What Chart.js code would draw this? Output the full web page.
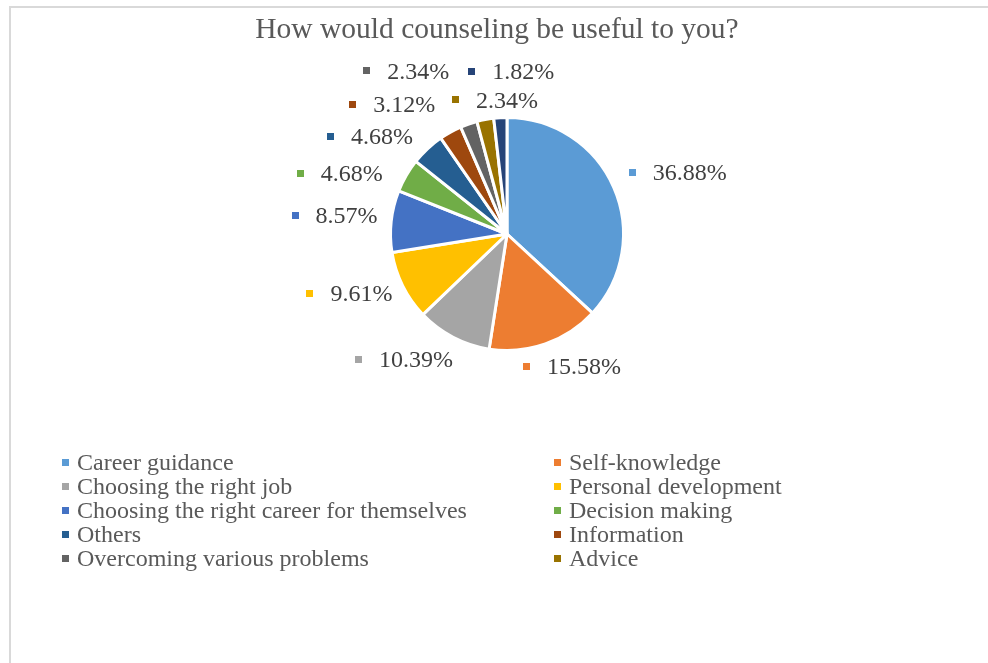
<!DOCTYPE html>
<html>
<head>
<meta charset="utf-8">
<script src="https://cdn.jsdelivr.net/npm/chart.js@4.4.1/dist/chart.umd.min.js"></script>
<style>
  html, body { margin: 0; padding: 0; background: #fff; }
  #wrap { position: relative; width: 988px; height: 663px; overflow: hidden; }
  #frame { position: absolute; left: 9px; top: 6px; width: 979px; height: 657px;
           border-top: 2px solid #d9d9d9; border-left: 2px solid #d9d9d9; box-sizing: border-box; }
  #title { position: absolute; left: 0; width: 994px; top: 10px; text-align: center;
           font-family: "Liberation Serif", "Times New Roman", serif; font-size: 29.5px;
           color: #595959; line-height: 36px; white-space: nowrap; }
  canvas { position: absolute; left: 0; top: 0; }
  #legend { position: absolute; left: 62px; top: 450px; display: grid;
            grid-template-columns: 492px 300px; font-family: "Liberation Serif", "Times New Roman", serif;
            font-size: 24px; line-height: 24px; color: #595959; }
  .item { display: flex; align-items: center; white-space: nowrap; height: 24px; }
  .sw { width: 7px; height: 7px; margin-right: 8px; flex: none; }
</style>
</head>
<body>
<div id="wrap">
  <div id="frame"></div>
  <canvas id="c" width="988" height="663"></canvas>
  <div id="title">How would counseling be useful to you?</div>
  <div id="legend"></div>
</div>
<script>
const categories = [
  "Career guidance",
  "Self-knowledge",
  "Choosing the right job",
  "Personal development",
  "Choosing the right career for themselves",
  "Decision making",
  "Others",
  "Information",
  "Overcoming various problems",
  "Advice",
  "(not shown in legend)"
];
const percentages = [36.88, 15.58, 10.39, 9.61, 8.57, 4.68, 4.68, 3.12, 2.34, 2.34, 1.82];
const sliceColors = ["#5B9BD5", "#ED7D31", "#A5A5A5", "#FFC000", "#4472C4", "#70AD47",
                     "#255E91", "#9E480E", "#636363", "#997300", "#264478"];
const legendCount = 10;

// label placement tweaks (px) relative to the computed outside-end anchor
const labelNudge = [[8,-5],[6.5,1],[-21,2],[-4,-2],[-2,-3],[-19,10],[-20,5],[-31.5,-7.5],[-44.5,-31],[20,3.5],[14,-23]];

const outsideLabels = {
  id: 'outsideLabels',
  afterDatasetsDraw(chart) {
    const ctx = chart.ctx;
    const meta = chart.getDatasetMeta(0);
    ctx.save();
    ctx.font = '24px "Liberation Serif", "Times New Roman", serif';
    ctx.textBaseline = 'middle';
    ctx.textAlign = 'left';
    meta.data.forEach((arc, i) => {
      const p = arc.getProps(['x','y','startAngle','endAngle','outerRadius'], true);
      const mid = (p.startAngle + p.endAngle) / 2;
      const cos = Math.cos(mid), sin = Math.sin(mid);
      const txt = percentages[i].toFixed(2) + '%';
      const tw = ctx.measureText(txt).width;
      const w = 24 + tw, h = 22;
      const r = p.outerRadius + 12;
      const px = p.x + r * cos, py = p.y + r * sin;
      const cx = px + (w / 2) * cos + labelNudge[i][0];
      const cy = py + (h / 2) * sin + labelNudge[i][1];
      const left = cx - w / 2;
      ctx.fillStyle = sliceColors[i];
      ctx.fillRect(Math.round(left), Math.round(cy - 4), 7, 7);
      ctx.fillStyle = '#404040';
      ctx.fillText(txt, left + 24, cy + 1);
    });
    ctx.restore();
  }
};

const chart = new Chart(document.getElementById('c'), {
  type: 'pie',
  data: {
    labels: categories,
    datasets: [{
      data: percentages,
      backgroundColor: sliceColors,
      borderColor: '#ffffff',
      borderWidth: 3
    }]
  },
  options: {
    responsive: false,
    animation: false,
    layout: { padding: { left: 389, right: 363, top: 116, bottom: 311 } },
    plugins: {
      legend: { display: false },
      title: { display: false },
      tooltip: { enabled: false }
    }
  },
  plugins: [outsideLabels]
});

const lg = document.getElementById('legend');
categories.slice(0, legendCount).forEach((name, i) => {
  const d = document.createElement('div');
  d.className = 'item';
  const s = document.createElement('span');
  s.className = 'sw';
  s.style.background = sliceColors[i];
  const t = document.createElement('span');
  t.textContent = name;
  d.appendChild(s); d.appendChild(t);
  lg.appendChild(d);
});
</script>
</body>
</html>
